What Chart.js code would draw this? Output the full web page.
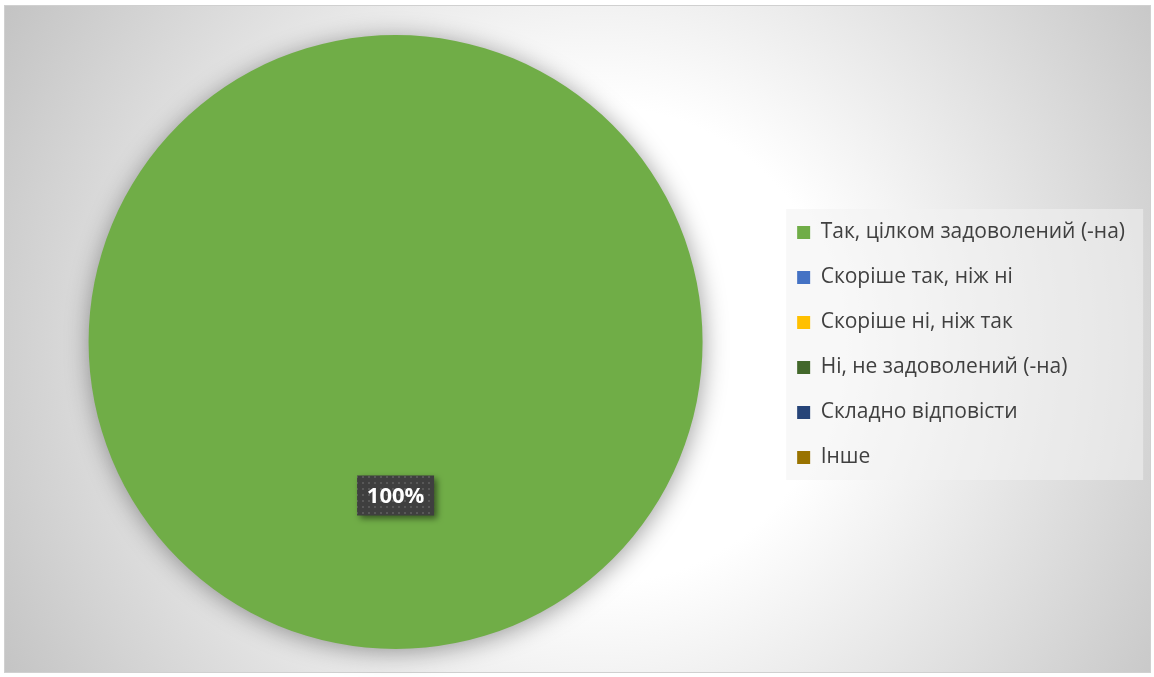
<!DOCTYPE html>
<html><head><meta charset="utf-8">
<script src="https://cdn.jsdelivr.net/npm/chart.js@4.4.0/dist/chart.umd.min.js"></script>
<style>html,body{margin:0;padding:0;background:#fff;}canvas{display:block;}</style>
</head><body>
<canvas id="c" width="1154" height="677"></canvas>
<script>
const categories = ['Так, цілком задоволений (-на)', 'Скоріше так, ніж ні', 'Скоріше ні, ніж так', 'Ні, не задоволений (-на)', 'Складно відповісти', 'Інше'];
const values = [100, 0, 0, 0, 0, 0];
const sliceColors = ['#70AD47', '#4472C4', '#FFC000', '#43682B', '#264478', '#997300'];

const bgPlugin = {
  id: 'bg',
  beforeDraw(chart) {
    const ctx = chart.ctx;
    ctx.save();
    ctx.fillStyle = '#ffffff';
    ctx.fillRect(0, 0, chart.width, chart.height);
    const g = ctx.createRadialGradient(600, 345, 0, 600, 345, 680);
    g.addColorStop(0, '#ffffff');
    g.addColorStop(0.35, '#ffffff');
    g.addColorStop(1, '#c4c4c4');
    ctx.fillStyle = g;
    ctx.fillRect(5, 6, 1145, 666);
    ctx.strokeStyle = '#d0d0d0';
    ctx.lineWidth = 1;
    ctx.strokeRect(4.5, 5.5, 1146, 667);
    const lg = chart.legend;
    if (lg && lg.legendHitBoxes && lg.legendHitBoxes.length) {
      const hb = lg.legendHitBoxes;
      const first = hb[0], last = hb[hb.length - 1];
      const x0 = first.left - 11, y0 = first.top - 13;
      const y1 = last.top + last.height + 12;
      ctx.fillStyle = 'rgba(242,242,242,0.55)';
      ctx.fillRect(x0, y0, 357, y1 - y0);
    }
    ctx.restore();
  }
};

const shadowPlugin = {
  id: 'pieShadow',
  beforeDatasetsDraw(chart) {
    const ctx = chart.ctx;
    ctx.save();
    ctx.shadowColor = 'rgba(0,0,0,0.38)';
    ctx.shadowBlur = 24;
    ctx.shadowOffsetX = 1;
    ctx.shadowOffsetY = 3;
  },
  afterDatasetsDraw(chart) {
    chart.ctx.restore();
  }
};

const labelPlugin = {
  id: 'valueLabels',
  afterDatasetsDraw(chart) {
    const ctx = chart.ctx;
    const meta = chart.getDatasetMeta(0);
    const total = values.reduce((a, b) => a + b, 0);
    const pc = document.createElement('canvas');
    pc.width = 6; pc.height = 6;
    const pctx = pc.getContext('2d');
    pctx.fillStyle = '#3f3f3f';
    pctx.fillRect(0, 0, 6, 6);
    pctx.fillStyle = '#585858';
    pctx.fillRect(2, 2, 2, 2);
    const pattern = ctx.createPattern(pc, 'repeat');
    meta.data.forEach((arc, i) => {
      if (!values[i]) return;
      const pos = arc.tooltipPosition();
      const text = Math.round(values[i] / total * 100) + '%';
      const w = 77, h = 40;
      const x = pos.x - w / 2, y = pos.y - h / 2;
      ctx.save();
      ctx.shadowColor = 'rgba(0,0,0,0.5)';
      ctx.shadowBlur = 6;
      ctx.shadowOffsetX = 3;
      ctx.shadowOffsetY = 3;
      ctx.fillStyle = pattern;
      ctx.fillRect(x, y, w, h);
      ctx.restore();
      ctx.save();
      ctx.font = 'bold 22px "Open Sans", sans-serif';
      ctx.fillStyle = '#ffffff';
      ctx.textAlign = 'center';
      ctx.textBaseline = 'middle';
      ctx.fillText(text, pos.x, pos.y + 1);
      ctx.restore();
    });
  }
};

new Chart(document.getElementById('c'), {
  type: 'pie',
  data: {
    labels: categories,
    datasets: [{
      data: values,
      backgroundColor: sliceColors,
      borderWidth: 0
    }]
  },
  options: {
    responsive: false,
    devicePixelRatio: 1,
    animation: false,
    layout: { padding: { top: 35, bottom: 28, left: 18, right: 19 } },
    plugins: {
      tooltip: { enabled: false },
      legend: {
        position: 'right',
        title: {
          display: true,
          text: ' ',
          padding: 0,
          font: { size: 6, lineHeight: 1 }
        },
        labels: {
          boxWidth: 13,
          boxHeight: 13,
          padding: 24,
          color: '#404040',
          font: { family: '"Open Sans", sans-serif', size: 21 }
        }
      }
    }
  },
  plugins: [bgPlugin, shadowPlugin, labelPlugin]
});
</script>
</body></html>
